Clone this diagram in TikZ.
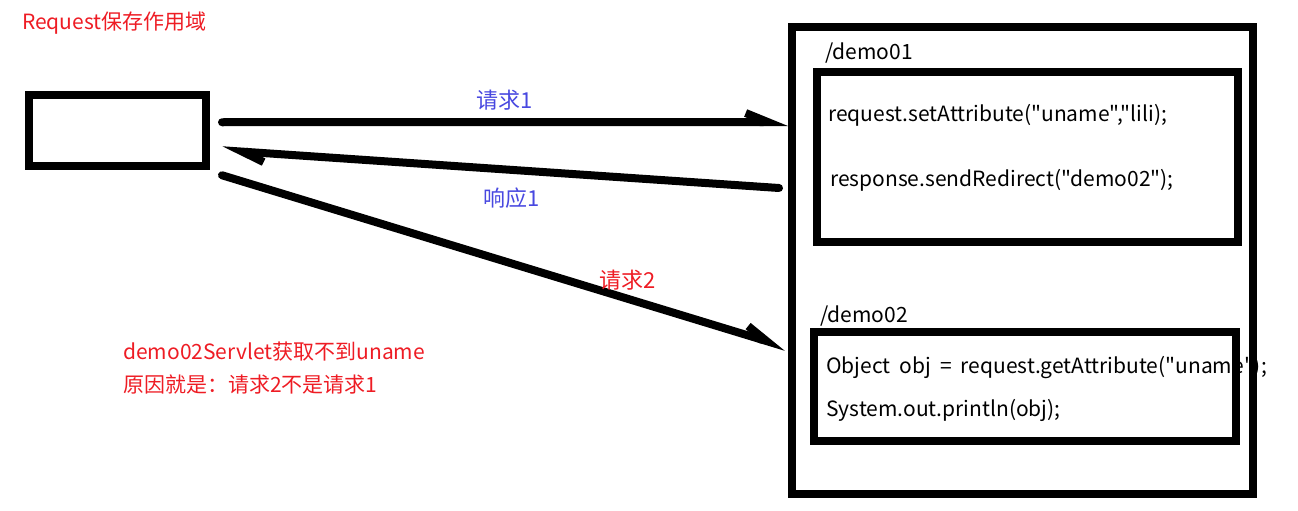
\documentclass[tikz,border=0pt]{standalone}
\usepackage{fontspec}
\newfontfamily\cjk{Noto Sans CJK SC}
\usetikzlibrary{arrows.meta}
\definecolor{noteRed}{RGB}{238,28,36}
\definecolor{labelBlue}{RGB}{72,72,224}
\newcommand{\codefont}{\cjk\fontsize{21}{25}\selectfont\spaceskip 9pt plus 1pt\relax}
\tikzset{
  box/.style={draw, line width=8pt, inner sep=0pt},
  flow/.style={line width=8pt, line cap=round, -{Straight Barb[harpoon, length=22pt, width=18pt]}},
  code/.style={anchor=west, inner sep=0pt, font=\codefont},
  redtext/.style={anchor=west, inner sep=0pt, text=noteRed, font=\cjk\fontsize{21}{25}\selectfont},
  bluetext/.style={inner sep=0pt, text=labelBlue, font=\cjk\fontsize{22}{26}\selectfont}
}
\begin{document}
\begin{tikzpicture}[x=1pt, y=-1pt]
  \useasboundingbox (0,0) rectangle (1298,511);
  \node[redtext] (title) at (22,23) {Request保存作用域};
  \node[box, minimum width=177pt, minimum height=71.5pt] (client) at (117.5,130.25) {};
  \node[box, minimum width=461pt, minimum height=467pt] (server) at (1022.5,260.5) {};
  \node[code] (path1) at (825,53) {/demo01};
  \node[code] (set) at (828,115) {request.setAttribute("uname","lili);};
  \node[code] (redirect) at (830,180) {response.sendRedirect("demo02");};
  \node[code] (path2) at (820,316) {/demo02};
  \node[code] (get) at (826,368) {Object obj = request.getAttribute("uname");};
  \node[code] (print) at (826,410) {System.out.println(obj);};
  \node[box, minimum width=421pt, minimum height=170pt] (demo01) at (1027.5,157) {};
  \node[box, minimum width=422pt, minimum height=109pt] (demo02) at (1025,386.5) {};
  \node[redtext, align=left, font=\cjk\fontsize{21}{33}\selectfont] (note) at (123,368)
    {demo02Servlet获取不到uname\\原因就是：请求2不是请求1};
  \draw[flow] ([xshift=12pt, yshift=8pt]client.east) -- ([yshift=138.5pt]server.west)
    node[bluetext, midway, above=8pt] (req1) {请求1};
  \draw[flow] ([xshift=-9pt, yshift=72.5pt]server.west) -- ([xshift=12pt, yshift=-20pt]client.east)
    node[bluetext, pos=0.48, below=14pt] (resp1) {响应1};
  \draw[flow] ([xshift=12pt, yshift=-45pt]client.east) -- ([xshift=-2pt, yshift=-86.5pt]server.west)
    node[bluetext, text=noteRed, pos=0.72, above=5pt] (req2) {请求2};
\end{tikzpicture}
\end{document}
